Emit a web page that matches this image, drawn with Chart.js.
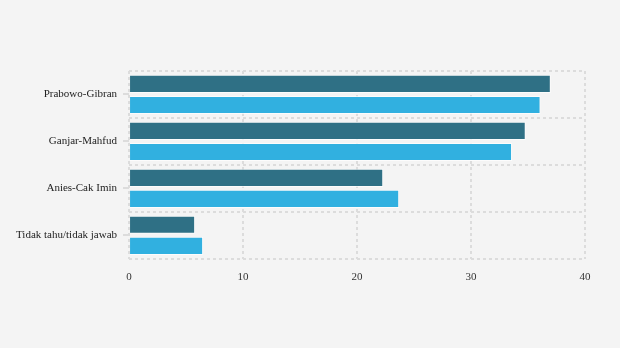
<!DOCTYPE html>
<html>
<head>
<meta charset="utf-8">
<script src="https://cdn.jsdelivr.net/npm/chart.js@4"></script>
<style>
    html, body { margin: 0; padding: 0; background: #f4f4f4; }
    #wrap { width: 620px; height: 348px; position: relative; }
</style>
</head>
<body>
<div id="wrap"><canvas id="chart"></canvas></div>
<script>
let candidates = ["Prabowo-Gibran", "Ganjar-Mahfud", "Anies-Cak Imin", "Tidak tahu/tidak jawab"];
let firstSurvey = [37.0, 34.8, 22.3, 5.8];
let secondSurvey = [36.1, 33.6, 23.7, 6.5];
let xTicks = [0, 10, 20, 30, 40];

let darkColor = '#2f7085';
let lightColor = '#31b0e0';
let gridColor = '#dcdcdc';

// short tick marks at the middle of each category on the y axis
let centerTicks = {
    id: 'centerTicks',
    afterDraw(chart) {
        let ctx = chart.ctx;
        let y = chart.scales.y;
        ctx.save();
        ctx.strokeStyle = gridColor;
        ctx.lineWidth = 2;
        y.ticks.forEach(function (t, i) {
            let py = Math.round(y.getPixelForTick(i));
            ctx.beginPath();
            ctx.moveTo(y.right - 6, py);
            ctx.lineTo(y.right, py);
            ctx.stroke();
        });
        ctx.restore();
    }
};

function initChart() {
    new Chart(document.getElementById('chart').getContext('2d'), {
        type: 'bar',
        data: {
            labels: candidates,
            datasets: [{
                label: "Survei 1",
                data: firstSurvey,
                backgroundColor: darkColor,
                borderColor: 'rgba(255,255,255,0.7)',
                borderWidth: 1
            }, {
                label: "Survei 2",
                data: secondSurvey,
                backgroundColor: lightColor,
                borderColor: 'rgba(255,255,255,0.7)',
                borderWidth: 1
            }]
        },
        options: {
            indexAxis: 'y',
            responsive: true,
            maintainAspectRatio: false,
            animation: false,
            categoryPercentage: 0.9,
            barPercentage: 0.86,
            layout: {
                padding: { top: 71, right: 35, bottom: 52, left: 4 }
            },
            plugins: {
                legend: { display: false },
                tooltip: { enabled: false }
            },
            scales: {
                x: {
                    min: 0,
                    max: 40,
                    afterBuildTicks: function (scale) {
                        scale.ticks = xTicks.map(v => ({ value: v }));
                    },
                    // the dashed grid lines also form the frame
                    border: { display: false, dash: [3, 3] },
                    grid: {
                        color: gridColor,
                        lineWidth: 2,
                        drawTicks: false
                    },
                    ticks: {
                        padding: 12,
                        color: '#333',
                        font: { family: 'Liberation Serif', size: 11 }
                    }
                },
                y: {
                    border: { display: false, dash: [3, 3] },
                    grid: {
                        color: gridColor,
                        lineWidth: 2,
                        drawTicks: false,
                        offset: true
                    },
                    ticks: {
                        padding: 12,
                        color: '#222',
                        font: { family: 'Liberation Serif', size: 11 }
                    }
                }
            }
        },
        plugins: [centerTicks]
    });
}

window.onload = initChart;
</script>
</body>
</html>
